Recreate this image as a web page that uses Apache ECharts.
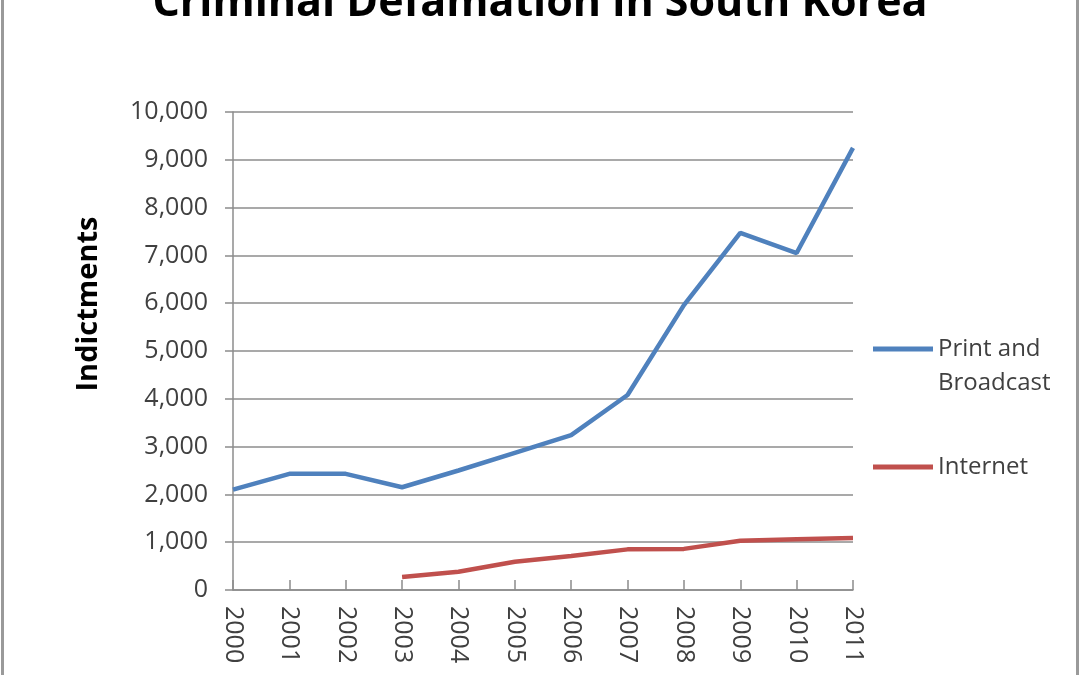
<!DOCTYPE html>
<html>
<head>
<meta charset="utf-8">
<title>Criminal Defamation in South Korea</title>
<script src="https://cdn.jsdelivr.net/npm/echarts@6/dist/echarts.min.js"></script>
<style>
  html, body { margin: 0; padding: 0; background: #fff; }
  #main { width: 1080px; height: 675px; }
</style>
</head>
<body>
<div id="main"></div>
<script>
// data
var years = ['2000', '2001', '2002', '2003', '2004', '2005', '2006', '2007', '2008', '2009', '2010', '2011'];
var printBroadcast = [2100, 2430, 2430, 2150, 2500, 2870, 3240, 4080, 5960, 7470, 7050, 9250];
var internet = [null, null, null, 270, 380, 590, 710, 850, 860, 1030, 1060, 1090];
var yTicks = { min: 0, max: 10000, interval: 1000 };

var chart = echarts.init(document.getElementById('main'));
var font = '"Open Sans", sans-serif';

var option = {
  backgroundColor: '#fff',
  animation: false,
  title: {
    text: 'Criminal Defamation in South Korea',
    left: 'center',
    top: -23,
    textStyle: { fontFamily: font, fontSize: 43, fontWeight: 'bold', color: '#000' }
  },
  graphic: [
    { // outer frame of the chart picture
      type: 'rect',
      shape: { x: 2.5, y: -10, width: 1075, height: 700 },
      style: { fill: 'none', stroke: '#9a9a9a', lineWidth: 3 },
      silent: true
    }
  ],
  legend: {
    orient: 'vertical',
    left: 868,
    top: 293,
    itemWidth: 60,
    itemHeight: 5,
    itemGap: 50,
    icon: 'rect',
    // empty first line keeps the icon level with "Print and"
    formatter: function (name) {
      return name === 'Print and Broadcast' ? '\nPrint and\nBroadcast' : name;
    },
    textStyle: { fontFamily: font, fontSize: 24, color: '#404040', lineHeight: 34 },
    data: ['Print and Broadcast', 'Internet']
  },
  grid: { left: 233, right: 227, top: 112, bottom: 85 },
  xAxis: {
    type: 'category',
    data: years,
    boundaryGap: false,
    axisLine: { lineStyle: { color: '#8c8c8c', width: 1.5 } },
    axisTick: { inside: true, length: 10, lineStyle: { color: '#8c8c8c', width: 1.5 } },
    axisLabel: { rotate: -90, margin: 16, fontFamily: font, fontSize: 25, color: '#404040' }
  },
  yAxis: {
    type: 'value',
    min: yTicks.min,
    max: yTicks.max,
    interval: yTicks.interval,
    name: 'Indictments',
    nameLocation: 'middle',
    nameGap: 130,
    nameTextStyle: {
      fontFamily: font, fontSize: 29, fontWeight: 'bold', color: '#000',
      padding: [0, 0, 0, 94]
    },
    axisLine: { show: true, lineStyle: { color: '#8c8c8c', width: 1.5 } },
    axisTick: { show: true, length: 8, lineStyle: { color: '#8c8c8c', width: 1.5 } },
    axisLabel: {
      margin: 25,
      fontFamily: font,
      fontSize: 25,
      color: '#404040',
      formatter: function (v) { return v.toLocaleString('en-US'); }
    },
    splitLine: { lineStyle: { color: '#8c8c8c', width: 1.5 } }
  },
  series: [
    {
      name: 'Print and Broadcast',
      type: 'line',
      data: printBroadcast,
      showSymbol: false,
      symbol: 'none',
      color: '#4f81bd',
      lineStyle: { width: 4.5, color: '#4f81bd' }
    },
    {
      name: 'Internet',
      type: 'line',
      data: internet,
      showSymbol: false,
      symbol: 'none',
      color: '#c0504d',
      lineStyle: { width: 4.5, color: '#c0504d' }
    }
  ]
};

chart.setOption(option);
</script>
</body>
</html>
